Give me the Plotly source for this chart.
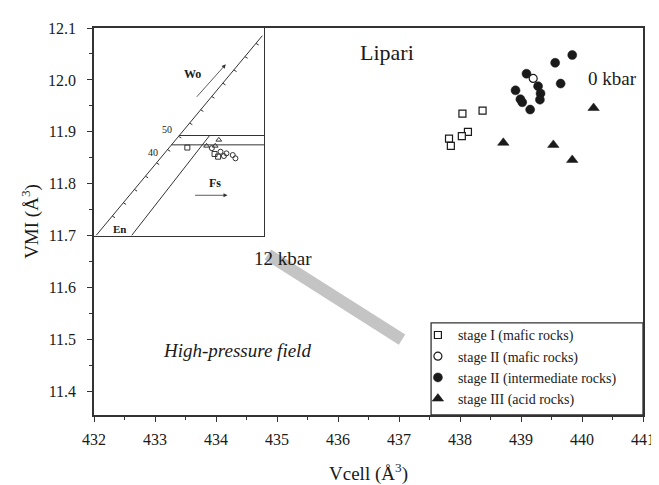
import plotly.graph_objects as go

# ---------------- main chart data ----------------
stage1_mafic_x = [438.04, 438.37, 438.13, 438.03, 437.82, 437.85]
stage1_mafic_y = [11.935, 11.941, 11.900, 11.892, 11.887, 11.873]

stage2_mafic_x = [439.20]
stage2_mafic_y = [12.003]

stage2_inter_x = [439.84, 439.56, 439.09, 439.65, 438.91, 439.28, 439.32, 438.99, 439.02, 439.31, 439.15]
stage2_inter_y = [12.048, 12.033, 12.012, 11.993, 11.980, 11.988, 11.974, 11.963, 11.957, 11.962, 11.943]

stage3_acid_x = [440.19, 438.71, 439.53, 439.84]
stage3_acid_y = [11.946, 11.879, 11.875, 11.846]

# 12 kbar gray band (start, end)
band_x = [434.85, 437.05]
band_y = [11.664, 11.500]

legend_names = ["stage I (mafic rocks)", "stage II (mafic rocks)",
                "stage II (intermediate rocks)", "stage III (acid rocks)"]

x_range = [432, 441]
y_range = [11.355, 12.1]

# ---------------- inset (pyroxene quadrilateral) data, normalized ----------------
inset_diag_u = [0.012, 0.99]
inset_diag_w = [0.0, 0.963]
inset_par_u = [0.221, 0.680]
inset_par_w = [0.0, 0.482]
inset_h50_u = [0.500, 1.0]
inset_h50_w = [0.482, 0.482]
inset_h40_u = [0.455, 1.0]
inset_h40_w = [0.437, 0.437]
inset_tick_w = [0.094, 0.158, 0.222, 0.286, 0.350, 0.414, 0.478, 0.542,
                0.606, 0.670, 0.734, 0.798, 0.862, 0.926]

inset_sq_u = [0.549, 0.709, 0.730]
inset_sq_w = [0.424, 0.393, 0.380]
inset_tri_u = [0.662, 0.734, 0.713]
inset_tri_w = [0.432, 0.461, 0.432]
inset_circ_u = [0.693, 0.744, 0.779, 0.816, 0.832, 0.764]
inset_circ_w = [0.421, 0.404, 0.396, 0.388, 0.372, 0.383]

SERIF = "Liberation Serif, Times New Roman, Times, serif"
INK = "#1a1a1a"

fig = go.Figure()

# gray band
fig.add_trace(go.Scatter(x=band_x, y=band_y, mode="lines",
                         line=dict(color="#c4c4c4", width=12),
                         showlegend=False, hoverinfo="skip"))

fig.add_trace(go.Scatter(x=stage1_mafic_x, y=stage1_mafic_y, mode="markers",
                         name=legend_names[0], legendrank=1,
                         marker=dict(symbol="square", size=7, color="white",
                                     line=dict(color=INK, width=1.2))))
fig.add_trace(go.Scatter(x=stage2_inter_x, y=stage2_inter_y, mode="markers",
                         name=legend_names[2], legendrank=3,
                         marker=dict(symbol="circle", size=9, color=INK,
                                     line=dict(color=INK, width=0.5))))
fig.add_trace(go.Scatter(x=stage2_mafic_x, y=stage2_mafic_y, mode="markers",
                         name=legend_names[1], legendrank=2,
                         marker=dict(symbol="circle", size=8, color="white",
                                     line=dict(color=INK, width=1.2))))
fig.add_trace(go.Scatter(x=stage3_acid_x, y=stage3_acid_y, mode="markers",
                         name=legend_names[3], legendrank=4,
                         marker=dict(symbol="triangle-up", size=10, color=INK,
                                     line=dict(color=INK, width=0.5))))

# ---------------- inset traces ----------------
def seg(u, w):
    return go.Scatter(x=u, y=w, mode="lines", xaxis="x2", yaxis="y2",
                      line=dict(color="#333", width=1), showlegend=False,
                      hoverinfo="skip")

for u, w in [(inset_diag_u, inset_diag_w), (inset_par_u, inset_par_w),
             (inset_h50_u, inset_h50_w), (inset_h40_u, inset_h40_w)]:
    fig.add_trace(seg(u, w))

# small ticks along diagonal
slope = (inset_diag_u[1] - inset_diag_u[0]) / (inset_diag_w[1] - inset_diag_w[0])
tu, tw = [], []
for w in inset_tick_w:
    u = inset_diag_u[0] + slope * w
    tu += [u, u + 0.016, None]
    tw += [w, w - 0.008, None]
fig.add_trace(go.Scatter(x=tu, y=tw, mode="lines", xaxis="x2", yaxis="y2",
                         line=dict(color="#333", width=1), showlegend=False,
                         hoverinfo="skip"))

for u, w, sym in [(inset_sq_u, inset_sq_w, "square-open"),
                  (inset_tri_u, inset_tri_w, "triangle-up-open"),
                  (inset_circ_u, inset_circ_w, "circle-open")]:
    fig.add_trace(go.Scatter(x=u, y=w, mode="markers", xaxis="x2", yaxis="y2",
                             marker=dict(symbol=sym, size=5, color="#333",
                                         line=dict(width=1)),
                             showlegend=False, hoverinfo="skip"))

# ---------------- annotations ----------------
ann = []
ann.append(dict(x=436.8, y=12.053, xref="x", yref="y", text="Lipari", showarrow=False,
                font=dict(family=SERIF, size=22, color=INK)))
ann.append(dict(x=440.07, y=12.003, xref="x", yref="y", text="0 kbar", showarrow=False,
                xanchor="left", font=dict(family=SERIF, size=19, color=INK)))
ann.append(dict(x=435.1, y=11.656, xref="x", yref="y", text="12 kbar", showarrow=False,
                font=dict(family=SERIF, size=19, color=INK)))
ann.append(dict(x=434.34, y=11.48, xref="x", yref="y", text="<i>High-pressure field</i>",
                showarrow=False, font=dict(family=SERIF, size=19, color=INK)))
# inset arrows
ann.append(dict(x=0.775, y=0.825, ax=0.590, ay=0.655, xref="x2", yref="y2",
                axref="x2", ayref="y2", text=" ", showarrow=True, arrowhead=2,
                arrowsize=1, arrowwidth=0.8, arrowcolor="#333",
                font=dict(family=SERIF, size=8)))
ann.append(dict(x=0.785, y=0.194, ax=0.580, ay=0.194, xref="x2", yref="y2",
                axref="x2", ayref="y2", text=" ", showarrow=True, arrowhead=2,
                arrowsize=1, arrowwidth=0.8, arrowcolor="#333",
                font=dict(family=SERIF, size=8)))
for txt, u, w, sz in [("<b>Wo</b>", 0.58, 0.777, 12), ("<b>Fs</b>", 0.713, 0.251, 12),
                      ("<b>En</b>", 0.15, 0.03, 11), ("50", 0.43, 0.51, 10),
                      ("40", 0.345, 0.40, 10)]:
    ann.append(dict(x=u, y=w, xref="x2", yref="y2", text=txt, showarrow=False,
                    font=dict(family=SERIF, size=sz, color=INK)))

axis_common = dict(showline=True, mirror=True, linecolor="#333", linewidth=1.5,
                   showgrid=False, zeroline=False, ticks="outside", ticklen=5,
                   tickwidth=1.2, tickcolor="#333",
                   tickfont=dict(family=SERIF, size=16, color=INK))

fig.update_layout(
    width=659, height=485,
    margin=dict(l=86, r=24, t=15, b=71),
    plot_bgcolor="white", paper_bgcolor="white",
    font=dict(family=SERIF, color=INK),
    xaxis=dict(range=x_range, dtick=1, tick0=432,
               minor=dict(dtick=0.5, ticks="outside", ticklen=3, tickcolor="#333"),
               ticklabelstandoff=4,
               title=dict(text="Vcell (Å<sup>3</sup>)", font=dict(family=SERIF, size=19),
                          standoff=20),
               **axis_common),
    yaxis=dict(range=y_range, dtick=0.1, tick0=11.4, tickformat=".1f",
               minor=dict(dtick=0.05, ticks="outside", ticklen=3, tickcolor="#333"),
               ticklabelstandoff=8,
               title=dict(text="VMI (Å<sup>3</sup>)", font=dict(family=SERIF, size=19),
                          standoff=4),
               **axis_common),
    xaxis2=dict(domain=[0, 0.3097], anchor="y2", range=[0, 1], showline=True, mirror=True,
                linecolor="#333", linewidth=1.2, showticklabels=False, ticks="",
                showgrid=False, zeroline=False),
    yaxis2=dict(domain=[0.4637, 1], anchor="x2", range=[0, 1], showline=True, mirror=True,
                linecolor="#333", linewidth=1.2, showticklabels=False, ticks="",
                showgrid=False, zeroline=False),
    legend=dict(x=0.590, y=0.247, xanchor="left", yanchor="top",
                bgcolor="rgba(0,0,0,0)", borderwidth=0, tracegroupgap=0,
                font=dict(family=SERIF, size=14, color=INK)),
    shapes=[dict(type="rect", xref="paper", yref="paper", x0=0.614, x1=1.0,
                 y0=0.0, y1=0.238, line=dict(color="#333", width=1.3))],
    annotations=ann,
)

fig.write_html("out.html")
